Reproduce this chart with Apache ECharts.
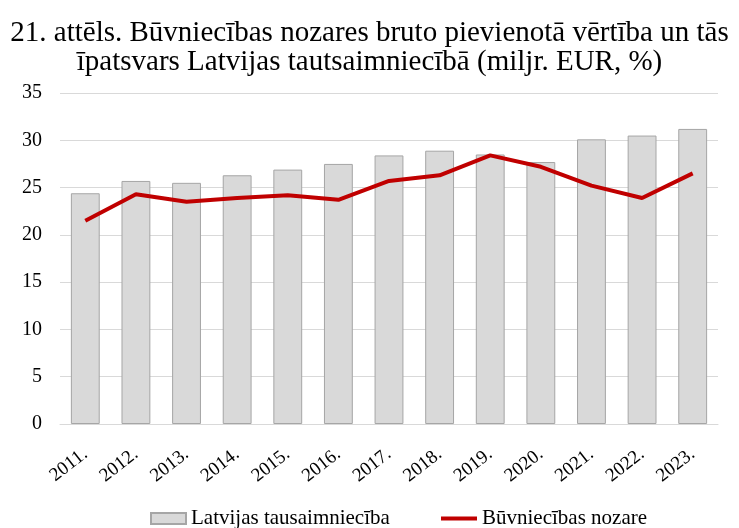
<!DOCTYPE html>
<html>
<head>
<meta charset="utf-8">
<script src="https://cdn.jsdelivr.net/npm/echarts@6/dist/echarts.min.js"></script>
<style>
  html, body { margin: 0; padding: 0; background: #fff; }
  #chart { width: 739px; height: 528px; }
</style>
</head>
<body>
<div id="chart"></div>
<script>
  // dati
  var years = ['2011.', '2012.', '2013.', '2014.', '2015.', '2016.', '2017.', '2018.', '2019.', '2020.', '2021.', '2022.', '2023.'];
  var economy = [24.4, 25.7, 25.5, 26.3, 26.9, 27.5, 28.4, 28.9, 28.5, 27.7, 30.1, 30.5, 31.2];
  var construction = [21.5, 24.3, 23.5, 23.9, 24.2, 23.7, 25.7, 26.3, 28.4, 27.2, 25.2, 23.9, 26.5];
  var titleText = '21. attēls. Būvniecības nozares bruto pievienotā vērtība un tās\nīpatsvars Latvijas tautsaimniecībā (miljr. EUR, %)';

  var font = '"Liberation Serif", "Times New Roman", serif';
  var myChart = echarts.init(document.getElementById('chart'));

  var option = {
    animation: false,
    title: {
      text: titleText,
      left: 'center',
      top: 14,
      textStyle: {
        fontFamily: font,
        fontWeight: 'normal',
        fontSize: 29,
        lineHeight: 29,
        color: '#000'
      }
    },
    // two legends so each icon gets its own size
    legend: [
      {
        left: 145,
        top: 503,
        itemWidth: 35,
        itemHeight: 11,
        textStyle: { fontFamily: font, fontSize: 21, color: '#000' },
        data: [{ name: 'Latvijas tausaimniecība', icon: 'rect' }]
      },
      {
        left: 436,
        top: 503,
        itemWidth: 36,
        itemHeight: 4,
        textStyle: { fontFamily: font, fontSize: 21, color: '#000' },
        data: [{ name: 'Būvniecības nozare', icon: 'rect' }]
      }
    ],
    grid: { left: 60, right: 21, top: 93, bottom: 104 },
    xAxis: {
      type: 'category',
      data: years,
      axisLine: { lineStyle: { color: '#d9d9d9', width: 1 } },
      axisTick: { show: false },
      axisLabel: {
        rotate: 38,
        margin: 28,
        fontFamily: font,
        fontSize: 19,
        color: '#000'
      }
    },
    yAxis: {
      type: 'value',
      min: 0,
      max: 35,
      interval: 5,
      axisLine: { show: false },
      axisTick: { show: false },
      splitLine: { lineStyle: { color: '#d9d9d9', width: 1 } },
      axisLabel: { margin: 18, fontFamily: font, fontSize: 20, color: '#000' }
    },
    series: [
      {
        name: 'Latvijas tausaimniecība',
        type: 'bar',
        data: economy,
        barCategoryGap: '43%',
        itemStyle: { color: '#d9d9d9', borderColor: '#a6a6a6', borderWidth: 1 }
      },
      {
        name: 'Būvniecības nozare',
        type: 'line',
        data: construction,
        symbol: 'none',
        lineStyle: { color: '#c00000', width: 4 },
        itemStyle: { color: '#c00000' }
      }
    ]
  };

  myChart.setOption(option);
</script>
</body>
</html>
